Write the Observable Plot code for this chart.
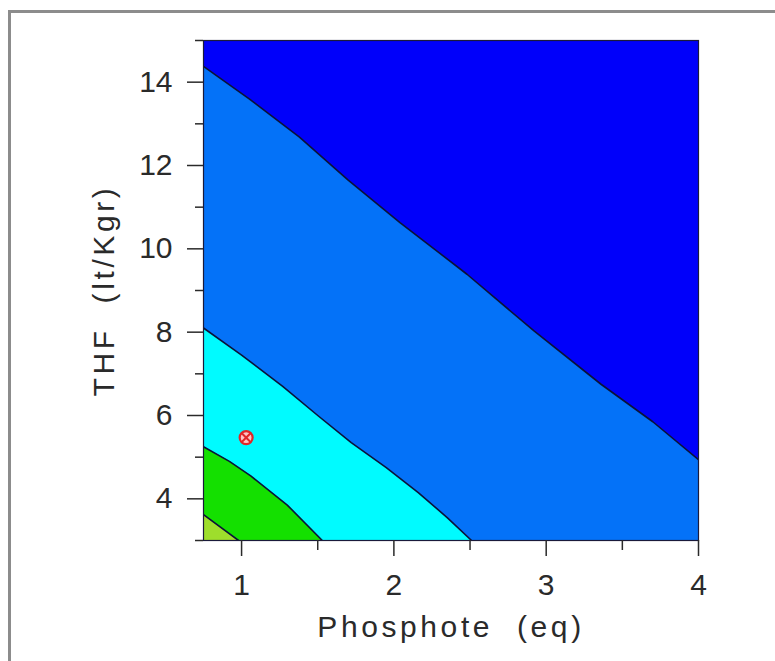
<!DOCTYPE html>
<html><head><meta charset="utf-8">
<script src="https://cdn.jsdelivr.net/npm/d3@7"></script>
<script src="https://cdn.jsdelivr.net/npm/@observablehq/plot@0.6"></script>
<style>
html,body{margin:0;padding:0;background:#fff;overflow:hidden;}
#wrap{position:relative;width:775px;height:661px;}
#border{position:absolute;left:8px;top:10px;width:900px;height:900px;border:3px solid #8c8c8c;box-sizing:border-box;pointer-events:none;}
g[aria-label="text"] text{letter-spacing:3.6px;}
</style></head><body><div id="wrap"><div id="border"></div></div>
<script>
const xDomain = [0.75, 4];
const yDomain = [3, 15];
const xMajorTicks = [1, 2, 3, 4];
const xMinorTicks = [1.5, 2.5, 3.5];
const yMajorTicks = [4, 6, 8, 10, 12, 14];
const yMinorTicks = [3, 5, 7, 9, 11, 13, 15];

// contour boundaries (lowest band first)
const contourDX = [0.75, 0.98];
const contourDY = [3.62, 3.0];
const contourCX = [0.75, 0.92, 1.06, 1.3, 1.53];
const contourCY = [5.25, 4.9, 4.55, 3.85, 3.0];
const contourBX = [0.75, 1.0, 1.27, 1.5, 1.72, 1.95, 2.16, 2.35, 2.51];
const contourBY = [8.1, 7.45, 6.7, 6.0, 5.35, 4.75, 4.15, 3.55, 3.0];
const contourAX = [0.75, 1.05, 1.38, 1.7, 2.04, 2.48, 2.92, 3.36, 3.7, 4.0];
const contourAY = [14.38, 13.6, 12.68, 11.65, 10.63, 9.39, 8.03, 6.75, 5.85, 4.94];

// band colours, bottom-left band to top-right band
const bandColors = ["#9ede2c", "#14e000", "#00fbff", "#0472f8", "#0000fa"];

const pointX = [1.03];
const pointY = [5.47];

const xLabel = "Phosphote  (eq)";
const yLabel = "THF  (lt/Kgr)";

const toPts = (xs, ys) => xs.map((x, i) => ({x, y: ys[i]}));
const contours = [
  toPts(contourDX, contourDY),
  toPts(contourCX, contourCY),
  toPts(contourBX, contourBY),
  toPts(contourAX, contourAY)
];
const fillPts = pts => pts[pts.length - 1].x < xDomain[1]
  ? [...pts, {x: xDomain[1], y: yDomain[0]}] : pts;
const points = pointX.map((x, i) => ({x, y: pointY[i]}));

const chart = Plot.plot({
  width: 775,
  height: 661,
  marginLeft: 203,
  marginRight: 77,
  marginTop: 40,
  marginBottom: 121,
  x: {domain: xDomain},
  y: {domain: yDomain},
  style: {fontFamily: "'Liberation Sans', Arial, sans-serif", fontSize: "30px", color: "#2a2a2a", background: "transparent"},
  marks: [
    Plot.frame({fill: bandColors[0]}),
    ...contours.map((c, i) => Plot.areaY(fillPts(c), {x: "x", y1: "y", y2: yDomain[1], fill: bandColors[i + 1], clip: true})),
    ...contours.map(c => Plot.line(c, {x: "x", y: "y", stroke: "#0b1238", strokeWidth: 1.6, strokeLinejoin: "round", clip: true})),
    Plot.frame({stroke: "#1a1a3a", strokeWidth: 1.2}),
    Plot.dot(points, {x: "x", y: "y", r: 6.5, fill: "#ffc4c4", stroke: "#e02828", strokeWidth: 2.2}),
    Plot.dot(points, {x: "x", y: "y", r: 4.5, symbol: "times", stroke: "#e02828", strokeWidth: 2}),
    Plot.axisX({ticks: xMajorTicks, tickSize: 16, tickPadding: 17, tickFormat: d => String(d), label: null, strokeWidth: 1.5}),
    Plot.axisX({ticks: xMinorTicks, tickSize: 10, tickFormat: () => "", label: null, strokeWidth: 1.5}),
    Plot.axisY({ticks: yMajorTicks, tickSize: 16, tickPadding: 15, tickFormat: d => String(d), label: null, strokeWidth: 1.5}),
    Plot.axisY({ticks: yMinorTicks, tickSize: 8, tickFormat: () => "", label: null, strokeWidth: 1.5}),
    Plot.text([xLabel], {text: d => d, frameAnchor: "bottom", lineAnchor: "top", textAnchor: "middle", dy: 75, fontSize: 30, fill: "#2a2a2a"}),
    Plot.text([yLabel], {text: d => d, frameAnchor: "left", lineAnchor: "top", textAnchor: "middle", rotate: -90, dx: -111, fontSize: 30, fill: "#2a2a2a"})
  ]
});
document.getElementById("wrap").prepend(chart);
</script></body></html>
